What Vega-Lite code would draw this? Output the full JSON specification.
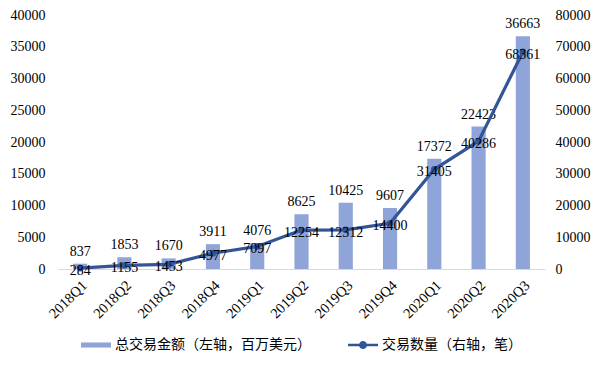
{
  "$schema": "https://vega.github.io/schema/vega-lite/v6.json",
  "width": 487,
  "height": 254,
  "autosize": {"type": "none"},
  "padding": {"left": 58, "top": 15, "right": 55, "bottom": 99},
  "background": "white",
  "config": {
    "view": {"stroke": null},
    "font": "Liberation Serif",
    "axis": {"grid": false, "ticks": false, "domain": false, "labelFont": "Liberation Serif", "labelFontSize": 14, "labelColor": "#000000"},
    "legend": {"labelFont": "Noto Sans CJK SC", "labelFontSize": 14, "labelColor": "#000000", "labelLimit": 400, "title": null}
  },
  "data": {
    "values": [
      {"q": "2018Q1", "amount": 837, "count": 284},
      {"q": "2018Q2", "amount": 1853, "count": 1155},
      {"q": "2018Q3", "amount": 1670, "count": 1453},
      {"q": "2018Q4", "amount": 3911, "count": 4977},
      {"q": "2019Q1", "amount": 4076, "count": 7097},
      {"q": "2019Q2", "amount": 8625, "count": 12254},
      {"q": "2019Q3", "amount": 10425, "count": 12312},
      {"q": "2019Q4", "amount": 9607, "count": 14400},
      {"q": "2020Q1", "amount": 17372, "count": 31405},
      {"q": "2020Q2", "amount": 22423, "count": 40286},
      {"q": "2020Q3", "amount": 36663, "count": 68361}
    ]
  },
  "encoding": {
    "x": {
      "field": "q", "type": "ordinal", "sort": null,
      "scale": {"paddingInner": 0.68, "paddingOuter": 0.34},
      "axis": {"title": null, "labelAngle": -45, "domain": true, "domainColor": "#d9d9d9", "domainWidth": 1, "labelPadding": 9, "labelFontSize": 14.5}
    }
  },
  "layer": [
    {
      "encoding": {
        "y": {
          "field": "amount", "type": "quantitative",
          "scale": {"domain": [0, 40000]},
          "axis": {"title": null, "orient": "left", "format": "d", "labelPadding": 13, "values": [0, 5000, 10000, 15000, 20000, 25000, 30000, 35000, 40000]}
        }
      },
      "layer": [
        {
          "mark": {"type": "bar"},
          "encoding": {
            "fill": {
              "datum": "总交易金额（左轴，百万美元）", "type": "nominal",
              "scale": {"range": ["#8FA4D8"]},
              "legend": {
                "orient": "none", "legendX": 23, "legendY": 315,
                "symbolType": "M-1,-0.17L1,-0.17L1,0.17L-1,0.17Z",
                "symbolSize": 900, "symbolStrokeWidth": 0, "labelOffset": 4
              }
            }
          }
        },
        {
          "mark": {"type": "text", "baseline": "bottom", "dy": -5, "fontSize": 14, "color": "#000000", "font": "Liberation Serif"},
          "encoding": {"text": {"field": "amount", "type": "quantitative", "format": "d"}}
        }
      ]
    },
    {
      "encoding": {
        "y": {
          "field": "count", "type": "quantitative",
          "scale": {"domain": [0, 80000]},
          "axis": {"title": null, "orient": "right", "format": "d", "labelPadding": 10, "values": [0, 10000, 20000, 30000, 40000, 50000, 60000, 70000, 80000]}
        }
      },
      "layer": [
        {
          "mark": {"type": "line", "strokeWidth": 3.2},
          "encoding": {
            "stroke": {
              "datum": "交易数量（右轴，笔）", "type": "nominal",
              "scale": {"range": ["#325597"]},
              "legend": {
                "orient": "none", "legendX": 290, "legendY": 315,
                "symbolType": "M-1,-0.08L-0.25,-0.08A0.26,0.26 0 0,1 0.25,-0.08L1,-0.08L1,0.08L0.25,0.08A0.26,0.26 0 0,1 -0.25,0.08L-1,0.08Z",
                "symbolSize": 900, "symbolFillColor": "#325597", "symbolStrokeWidth": 0, "labelOffset": 4
              }
            }
          }
        },
        {
          "mark": {"type": "point", "filled": true, "size": 45, "color": "#325597", "opacity": 1},
          "encoding": {}
        },
        {
          "mark": {"type": "text", "baseline": "middle", "dy": 3, "fontSize": 14, "color": "#000000", "font": "Liberation Serif"},
          "encoding": {"text": {"field": "count", "type": "quantitative", "format": "d"}}
        }
      ]
    }
  ],
  "resolve": {"scale": {"y": "independent"}}
}
